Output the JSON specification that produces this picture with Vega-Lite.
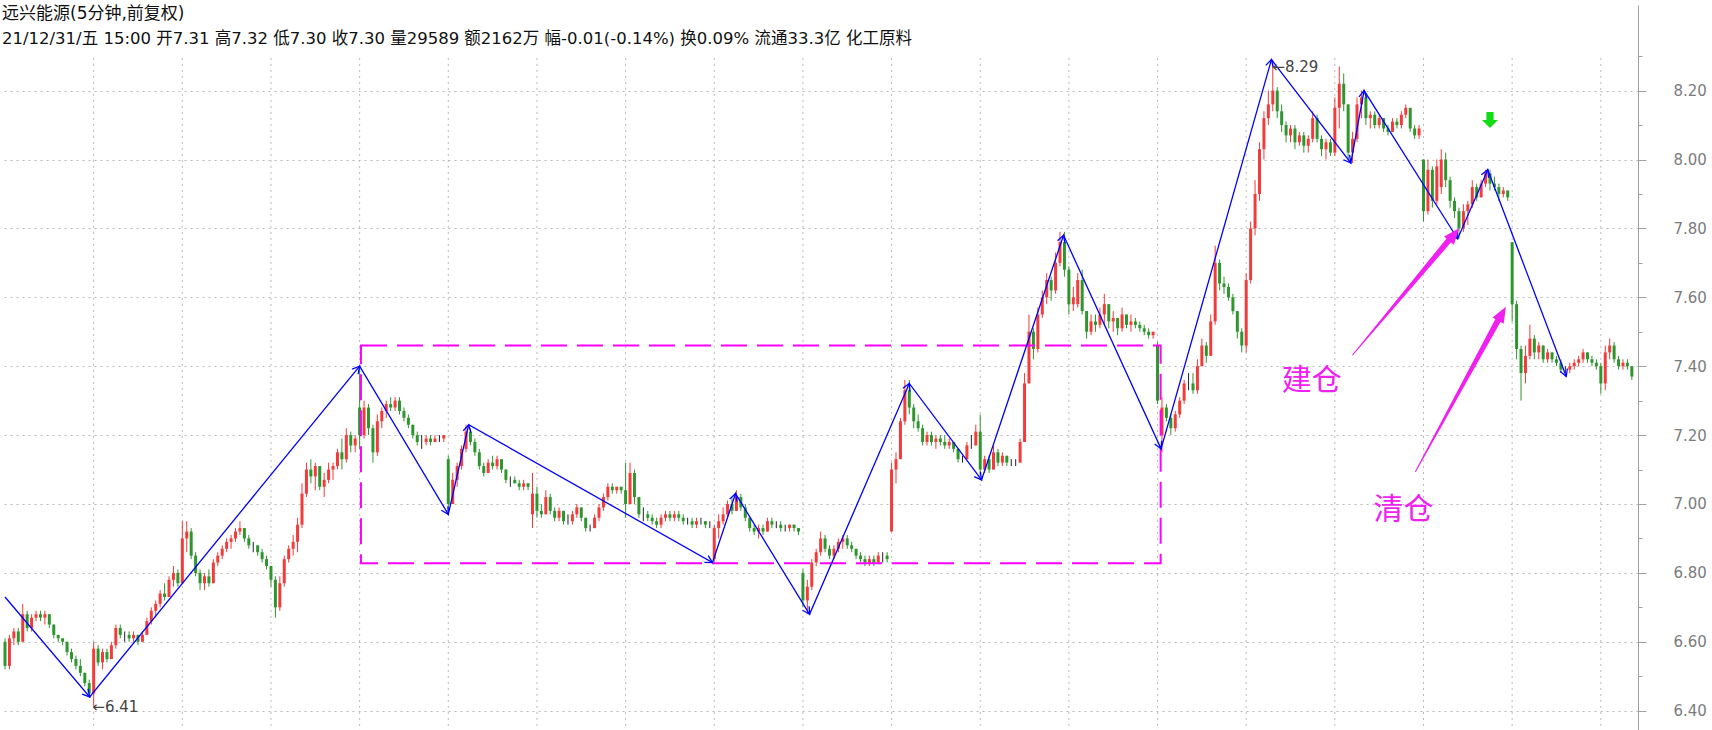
{
"$schema":"https://vega.github.io/schema/vega-lite/v6.json",
"width":1638,"height":725,
"autosize":{"type":"none"},
"padding":{"left":0,"top":5,"right":74,"bottom":0},
"background":"#ffffff",
"view":{"stroke":null},
"resolve":{"axis":{"x":"independent","y":"independent"}},
"title":{"text":"远兴能源(5分钟,前复权)","subtitle":"21/12/31/五 15:00 开7.31 高7.32 低7.30 收7.30 量29589 额2162万 幅-0.01(-0.14%) 换0.09% 流通33.3亿 化工原料","anchor":"start","frame":"group","offset":-43,"dx":2,"font":"DejaVu Sans, Noto Sans CJK SC","fontSize":17,"fontWeight":"normal","color":"#111111","subtitleFont":"DejaVu Sans, Noto Sans CJK SC","subtitleFontSize":16.5,"subtitleColor":"#111111","subtitlePadding":8},
"datasets":{
"candles":[
{"t":0,"o":6.6,"h":6.61,"l":6.52,"c":6.53},{"t":1,"o":6.53,"h":6.62,"l":6.52,"c":6.61},{"t":2,"o":6.61,"h":6.64,"l":6.59,"c":6.63},{"t":3,"o":6.63,"h":6.64,"l":6.59,"c":6.6},{"t":4,"o":6.6,"h":6.71,"l":6.6,"c":6.68},{"t":5,"o":6.68,"h":6.69,"l":6.63,"c":6.64},{"t":6,"o":6.64,"h":6.68,"l":6.63,"c":6.67},{"t":7,"o":6.67,"h":6.69,"l":6.66,"c":6.68},{"t":8,"o":6.68,"h":6.69,"l":6.66,"c":6.67},{"t":9,"o":6.67,"h":6.69,"l":6.65,"c":6.68},
{"t":10,"o":6.68,"h":6.68,"l":6.64,"c":6.65},{"t":11,"o":6.65,"h":6.65,"l":6.61,"c":6.62},{"t":12,"o":6.62,"h":6.62,"l":6.6,"c":6.61},{"t":13,"o":6.61,"h":6.61,"l":6.59,"c":6.6},{"t":14,"o":6.6,"h":6.6,"l":6.56,"c":6.57},{"t":15,"o":6.57,"h":6.58,"l":6.54,"c":6.55},{"t":16,"o":6.55,"h":6.56,"l":6.52,"c":6.53},{"t":17,"o":6.53,"h":6.55,"l":6.5,"c":6.51},{"t":18,"o":6.51,"h":6.51,"l":6.47,"c":6.48},{"t":19,"o":6.48,"h":6.49,"l":6.44,"c":6.45},
{"t":20,"o":6.45,"h":6.6,"l":6.41,"c":6.58},{"t":21,"o":6.58,"h":6.59,"l":6.53,"c":6.54},{"t":22,"o":6.54,"h":6.58,"l":6.52,"c":6.57},{"t":23,"o":6.57,"h":6.58,"l":6.54,"c":6.55},{"t":24,"o":6.55,"h":6.6,"l":6.55,"c":6.59},{"t":25,"o":6.59,"h":6.65,"l":6.58,"c":6.64},{"t":26,"o":6.64,"h":6.65,"l":6.61,"c":6.62},{"t":27,"o":6.62,"h":6.63,"l":6.6,"c":6.62},{"t":28,"o":6.62,"h":6.63,"l":6.6,"c":6.61},{"t":29,"o":6.61,"h":6.63,"l":6.6,"c":6.62},
{"t":30,"o":6.62,"h":6.62,"l":6.59,"c":6.6},{"t":31,"o":6.6,"h":6.63,"l":6.6,"c":6.62},{"t":32,"o":6.62,"h":6.67,"l":6.62,"c":6.66},{"t":33,"o":6.66,"h":6.7,"l":6.65,"c":6.69},{"t":34,"o":6.69,"h":6.72,"l":6.67,"c":6.71},{"t":35,"o":6.71,"h":6.75,"l":6.7,"c":6.74},{"t":36,"o":6.74,"h":6.77,"l":6.72,"c":6.73},{"t":37,"o":6.73,"h":6.79,"l":6.73,"c":6.78},{"t":38,"o":6.78,"h":6.82,"l":6.76,"c":6.8},{"t":39,"o":6.8,"h":6.81,"l":6.76,"c":6.77},
{"t":40,"o":6.77,"h":6.95,"l":6.77,"c":6.9},{"t":41,"o":6.9,"h":6.95,"l":6.86,"c":6.92},{"t":42,"o":6.92,"h":6.93,"l":6.84,"c":6.85},{"t":43,"o":6.85,"h":6.86,"l":6.79,"c":6.8},{"t":44,"o":6.8,"h":6.81,"l":6.75,"c":6.77},{"t":45,"o":6.77,"h":6.8,"l":6.75,"c":6.79},{"t":46,"o":6.79,"h":6.81,"l":6.76,"c":6.77},{"t":47,"o":6.77,"h":6.84,"l":6.77,"c":6.83},{"t":48,"o":6.83,"h":6.86,"l":6.82,"c":6.85},{"t":49,"o":6.85,"h":6.88,"l":6.84,"c":6.87},
{"t":50,"o":6.87,"h":6.9,"l":6.86,"c":6.89},{"t":51,"o":6.89,"h":6.91,"l":6.87,"c":6.9},{"t":52,"o":6.9,"h":6.93,"l":6.89,"c":6.92},{"t":53,"o":6.92,"h":6.95,"l":6.91,"c":6.93},{"t":54,"o":6.93,"h":6.93,"l":6.89,"c":6.9},{"t":55,"o":6.9,"h":6.91,"l":6.87,"c":6.88},{"t":56,"o":6.88,"h":6.89,"l":6.86,"c":6.88},{"t":57,"o":6.88,"h":6.88,"l":6.85,"c":6.86},{"t":58,"o":6.86,"h":6.87,"l":6.83,"c":6.84},{"t":59,"o":6.84,"h":6.85,"l":6.81,"c":6.82},
{"t":60,"o":6.82,"h":6.82,"l":6.76,"c":6.78},{"t":61,"o":6.78,"h":6.79,"l":6.67,"c":6.7},{"t":62,"o":6.7,"h":6.79,"l":6.69,"c":6.77},{"t":63,"o":6.77,"h":6.85,"l":6.76,"c":6.84},{"t":64,"o":6.84,"h":6.88,"l":6.83,"c":6.87},{"t":65,"o":6.87,"h":6.91,"l":6.85,"c":6.89},{"t":66,"o":6.89,"h":6.96,"l":6.86,"c":6.94},{"t":67,"o":6.94,"h":7.06,"l":6.93,"c":7.03},{"t":68,"o":7.03,"h":7.12,"l":7.02,"c":7.1},{"t":69,"o":7.1,"h":7.13,"l":7.06,"c":7.08},
{"t":70,"o":7.08,"h":7.12,"l":7.04,"c":7.11},{"t":71,"o":7.11,"h":7.11,"l":7.04,"c":7.05},{"t":72,"o":7.05,"h":7.09,"l":7.02,"c":7.07},{"t":73,"o":7.07,"h":7.12,"l":7.06,"c":7.1},{"t":74,"o":7.1,"h":7.12,"l":7.07,"c":7.11},{"t":75,"o":7.11,"h":7.16,"l":7.1,"c":7.15},{"t":76,"o":7.15,"h":7.19,"l":7.1,"c":7.13},{"t":77,"o":7.13,"h":7.22,"l":7.12,"c":7.2},{"t":78,"o":7.2,"h":7.21,"l":7.15,"c":7.17},{"t":79,"o":7.17,"h":7.2,"l":7.15,"c":7.19},
{"t":80,"o":7.28,"h":7.4,"l":7.16,"c":7.2},{"t":81,"o":7.2,"h":7.3,"l":7.19,"c":7.28},{"t":82,"o":7.28,"h":7.29,"l":7.2,"c":7.22},{"t":83,"o":7.22,"h":7.23,"l":7.12,"c":7.15},{"t":84,"o":7.15,"h":7.26,"l":7.14,"c":7.24},{"t":85,"o":7.24,"h":7.28,"l":7.22,"c":7.27},{"t":86,"o":7.27,"h":7.3,"l":7.25,"c":7.29},{"t":87,"o":7.29,"h":7.31,"l":7.27,"c":7.28},{"t":88,"o":7.28,"h":7.31,"l":7.27,"c":7.3},{"t":89,"o":7.3,"h":7.31,"l":7.26,"c":7.27},
{"t":90,"o":7.27,"h":7.28,"l":7.24,"c":7.25},{"t":91,"o":7.25,"h":7.26,"l":7.22,"c":7.23},{"t":92,"o":7.23,"h":7.23,"l":7.19,"c":7.2},{"t":93,"o":7.2,"h":7.21,"l":7.17,"c":7.18},{"t":94,"o":7.18,"h":7.2,"l":7.16,"c":7.18},{"t":95,"o":7.18,"h":7.2,"l":7.17,"c":7.19},{"t":96,"o":7.19,"h":7.2,"l":7.17,"c":7.18},{"t":97,"o":7.18,"h":7.2,"l":7.18,"c":7.19},{"t":98,"o":7.19,"h":7.2,"l":7.18,"c":7.19},{"t":99,"o":7.19,"h":7.2,"l":7.18,"c":7.2},
{"t":100,"o":7.13,"h":7.14,"l":6.97,"c":7.0},{"t":101,"o":7.0,"h":7.09,"l":7.0,"c":7.07},{"t":102,"o":7.07,"h":7.12,"l":7.05,"c":7.11},{"t":103,"o":7.11,"h":7.17,"l":7.1,"c":7.16},{"t":104,"o":7.16,"h":7.23,"l":7.15,"c":7.21},{"t":105,"o":7.21,"h":7.22,"l":7.17,"c":7.18},{"t":106,"o":7.18,"h":7.19,"l":7.14,"c":7.15},{"t":107,"o":7.15,"h":7.16,"l":7.1,"c":7.11},{"t":108,"o":7.11,"h":7.12,"l":7.08,"c":7.09},{"t":109,"o":7.09,"h":7.13,"l":7.09,"c":7.12},
{"t":110,"o":7.12,"h":7.14,"l":7.1,"c":7.11},{"t":111,"o":7.11,"h":7.14,"l":7.1,"c":7.13},{"t":112,"o":7.13,"h":7.13,"l":7.09,"c":7.1},{"t":113,"o":7.1,"h":7.1,"l":7.06,"c":7.07},{"t":114,"o":7.07,"h":7.08,"l":7.05,"c":7.07},{"t":115,"o":7.07,"h":7.08,"l":7.06,"c":7.06},{"t":116,"o":7.06,"h":7.07,"l":7.04,"c":7.05},{"t":117,"o":7.05,"h":7.07,"l":7.04,"c":7.06},{"t":118,"o":7.06,"h":7.06,"l":7.04,"c":7.05},{"t":119,"o":6.97,"h":7.09,"l":6.93,"c":7.03},
{"t":120,"o":7.03,"h":7.05,"l":6.96,"c":6.98},{"t":121,"o":6.98,"h":7.0,"l":6.96,"c":6.97},{"t":122,"o":6.97,"h":7.04,"l":6.97,"c":7.02},{"t":123,"o":7.02,"h":7.03,"l":6.97,"c":6.98},{"t":124,"o":6.98,"h":6.99,"l":6.95,"c":6.96},{"t":125,"o":6.96,"h":6.99,"l":6.95,"c":6.98},{"t":126,"o":6.98,"h":6.98,"l":6.94,"c":6.95},{"t":127,"o":6.95,"h":6.97,"l":6.94,"c":6.95},{"t":128,"o":6.95,"h":6.98,"l":6.94,"c":6.97},{"t":129,"o":6.97,"h":7.0,"l":6.96,"c":6.99},
{"t":130,"o":6.99,"h":6.99,"l":6.95,"c":6.96},{"t":131,"o":6.96,"h":6.96,"l":6.92,"c":6.93},{"t":132,"o":6.93,"h":6.94,"l":6.92,"c":6.93},{"t":133,"o":6.93,"h":6.97,"l":6.93,"c":6.96},{"t":134,"o":6.96,"h":7.0,"l":6.95,"c":6.99},{"t":135,"o":6.99,"h":7.03,"l":6.98,"c":7.02},{"t":136,"o":7.02,"h":7.06,"l":7.01,"c":7.05},{"t":137,"o":7.05,"h":7.06,"l":7.03,"c":7.04},{"t":138,"o":7.04,"h":7.05,"l":7.03,"c":7.05},{"t":139,"o":7.05,"h":7.05,"l":7.03,"c":7.04},
{"t":140,"o":7.04,"h":7.12,"l":6.96,"c":7.0},{"t":141,"o":7.0,"h":7.12,"l":7.0,"c":7.09},{"t":142,"o":7.09,"h":7.1,"l":7.0,"c":7.02},{"t":143,"o":7.02,"h":7.02,"l":6.96,"c":6.97},{"t":144,"o":6.97,"h":6.99,"l":6.95,"c":6.97},{"t":145,"o":6.97,"h":6.98,"l":6.95,"c":6.96},{"t":146,"o":6.96,"h":6.97,"l":6.94,"c":6.95},{"t":147,"o":6.95,"h":6.96,"l":6.93,"c":6.94},{"t":148,"o":6.94,"h":6.97,"l":6.93,"c":6.96},{"t":149,"o":6.96,"h":6.98,"l":6.95,"c":6.97},
{"t":150,"o":6.97,"h":6.98,"l":6.95,"c":6.96},{"t":151,"o":6.96,"h":6.98,"l":6.95,"c":6.97},{"t":152,"o":6.97,"h":6.98,"l":6.95,"c":6.96},{"t":153,"o":6.96,"h":6.97,"l":6.94,"c":6.95},{"t":154,"o":6.95,"h":6.96,"l":6.94,"c":6.95},{"t":155,"o":6.95,"h":6.96,"l":6.93,"c":6.94},{"t":156,"o":6.94,"h":6.96,"l":6.93,"c":6.95},{"t":157,"o":6.95,"h":6.96,"l":6.94,"c":6.95},{"t":158,"o":6.95,"h":6.95,"l":6.93,"c":6.94},{"t":159,"o":6.94,"h":6.95,"l":6.93,"c":6.94},
{"t":160,"o":6.84,"h":6.94,"l":6.83,"c":6.93},{"t":161,"o":6.93,"h":6.97,"l":6.9,"c":6.95},{"t":162,"o":6.95,"h":6.99,"l":6.94,"c":6.97},{"t":163,"o":6.97,"h":7.01,"l":6.96,"c":7.0},{"t":164,"o":7.0,"h":7.02,"l":6.97,"c":6.98},{"t":165,"o":6.98,"h":7.04,"l":6.98,"c":7.02},{"t":166,"o":7.02,"h":7.03,"l":6.98,"c":6.99},{"t":167,"o":6.99,"h":7.0,"l":6.95,"c":6.96},{"t":168,"o":6.96,"h":6.96,"l":6.92,"c":6.93},{"t":169,"o":6.93,"h":6.94,"l":6.91,"c":6.92},
{"t":170,"o":6.92,"h":6.94,"l":6.9,"c":6.93},{"t":171,"o":6.93,"h":6.94,"l":6.91,"c":6.92},{"t":172,"o":6.92,"h":6.96,"l":6.92,"c":6.95},{"t":173,"o":6.95,"h":6.96,"l":6.93,"c":6.94},{"t":174,"o":6.94,"h":6.95,"l":6.93,"c":6.94},{"t":175,"o":6.94,"h":6.95,"l":6.92,"c":6.93},{"t":176,"o":6.93,"h":6.94,"l":6.92,"c":6.93},{"t":177,"o":6.93,"h":6.94,"l":6.92,"c":6.94},{"t":178,"o":6.94,"h":6.94,"l":6.92,"c":6.93},{"t":179,"o":6.93,"h":6.93,"l":6.91,"c":6.92},
{"t":180,"o":6.8,"h":6.81,"l":6.7,"c":6.72},{"t":181,"o":6.72,"h":6.78,"l":6.68,"c":6.76},{"t":182,"o":6.76,"h":6.84,"l":6.75,"c":6.83},{"t":183,"o":6.83,"h":6.87,"l":6.82,"c":6.86},{"t":184,"o":6.86,"h":6.92,"l":6.85,"c":6.9},{"t":185,"o":6.9,"h":6.91,"l":6.86,"c":6.87},{"t":186,"o":6.87,"h":6.88,"l":6.84,"c":6.85},{"t":187,"o":6.85,"h":6.88,"l":6.84,"c":6.87},{"t":188,"o":6.87,"h":6.9,"l":6.86,"c":6.89},{"t":189,"o":6.89,"h":6.91,"l":6.87,"c":6.9},
{"t":190,"o":6.9,"h":6.91,"l":6.87,"c":6.88},{"t":191,"o":6.88,"h":6.89,"l":6.86,"c":6.87},{"t":192,"o":6.87,"h":6.87,"l":6.84,"c":6.85},{"t":193,"o":6.85,"h":6.86,"l":6.83,"c":6.84},{"t":194,"o":6.84,"h":6.85,"l":6.82,"c":6.83},{"t":195,"o":6.83,"h":6.85,"l":6.82,"c":6.84},{"t":196,"o":6.84,"h":6.85,"l":6.82,"c":6.83},{"t":197,"o":6.83,"h":6.86,"l":6.83,"c":6.85},{"t":198,"o":6.85,"h":6.86,"l":6.83,"c":6.85},{"t":199,"o":6.85,"h":6.86,"l":6.83,"c":6.84},
{"t":200,"o":6.92,"h":7.12,"l":6.92,"c":7.1},{"t":201,"o":7.1,"h":7.15,"l":7.06,"c":7.13},{"t":202,"o":7.13,"h":7.25,"l":7.13,"c":7.24},{"t":203,"o":7.24,"h":7.36,"l":7.23,"c":7.33},{"t":204,"o":7.33,"h":7.36,"l":7.26,"c":7.28},{"t":205,"o":7.28,"h":7.29,"l":7.22,"c":7.24},{"t":206,"o":7.24,"h":7.26,"l":7.21,"c":7.22},{"t":207,"o":7.22,"h":7.23,"l":7.17,"c":7.18},{"t":208,"o":7.18,"h":7.21,"l":7.17,"c":7.2},{"t":209,"o":7.2,"h":7.21,"l":7.17,"c":7.18},
{"t":210,"o":7.18,"h":7.2,"l":7.16,"c":7.19},{"t":211,"o":7.19,"h":7.2,"l":7.17,"c":7.18},{"t":212,"o":7.18,"h":7.2,"l":7.16,"c":7.17},{"t":213,"o":7.17,"h":7.19,"l":7.16,"c":7.18},{"t":214,"o":7.18,"h":7.18,"l":7.15,"c":7.16},{"t":215,"o":7.16,"h":7.16,"l":7.12,"c":7.13},{"t":216,"o":7.13,"h":7.14,"l":7.12,"c":7.13},{"t":217,"o":7.13,"h":7.18,"l":7.13,"c":7.17},{"t":218,"o":7.17,"h":7.2,"l":7.16,"c":7.17},{"t":219,"o":7.17,"h":7.23,"l":7.17,"c":7.21},
{"t":220,"o":7.21,"h":7.26,"l":7.08,"c":7.1},{"t":221,"o":7.1,"h":7.14,"l":7.09,"c":7.13},{"t":222,"o":7.13,"h":7.14,"l":7.09,"c":7.1},{"t":223,"o":7.1,"h":7.17,"l":7.1,"c":7.15},{"t":224,"o":7.15,"h":7.16,"l":7.11,"c":7.12},{"t":225,"o":7.12,"h":7.15,"l":7.11,"c":7.14},{"t":226,"o":7.14,"h":7.14,"l":7.11,"c":7.12},{"t":227,"o":7.12,"h":7.13,"l":7.11,"c":7.12},{"t":228,"o":7.12,"h":7.13,"l":7.11,"c":7.12},{"t":229,"o":7.12,"h":7.19,"l":7.12,"c":7.18},
{"t":230,"o":7.18,"h":7.38,"l":7.18,"c":7.35},{"t":231,"o":7.35,"h":7.55,"l":7.35,"c":7.5},{"t":232,"o":7.5,"h":7.51,"l":7.42,"c":7.45},{"t":233,"o":7.45,"h":7.57,"l":7.44,"c":7.55},{"t":234,"o":7.55,"h":7.62,"l":7.54,"c":7.6},{"t":235,"o":7.6,"h":7.67,"l":7.58,"c":7.65},{"t":236,"o":7.65,"h":7.66,"l":7.59,"c":7.62},{"t":237,"o":7.62,"h":7.73,"l":7.61,"c":7.7},{"t":238,"o":7.7,"h":7.79,"l":7.69,"c":7.76},{"t":239,"o":7.76,"h":7.79,"l":7.66,"c":7.68},
{"t":240,"o":7.68,"h":7.69,"l":7.55,"c":7.58},{"t":241,"o":7.58,"h":7.63,"l":7.56,"c":7.6},{"t":242,"o":7.58,"h":7.67,"l":7.57,"c":7.65},{"t":243,"o":7.65,"h":7.68,"l":7.55,"c":7.56},{"t":244,"o":7.56,"h":7.56,"l":7.48,"c":7.5},{"t":245,"o":7.5,"h":7.55,"l":7.49,"c":7.53},{"t":246,"o":7.53,"h":7.55,"l":7.5,"c":7.52},{"t":247,"o":7.52,"h":7.57,"l":7.51,"c":7.55},{"t":248,"o":7.55,"h":7.61,"l":7.52,"c":7.58},{"t":249,"o":7.58,"h":7.58,"l":7.51,"c":7.53},
{"t":250,"o":7.53,"h":7.56,"l":7.5,"c":7.54},{"t":251,"o":7.54,"h":7.54,"l":7.49,"c":7.51},{"t":252,"o":7.51,"h":7.57,"l":7.5,"c":7.55},{"t":253,"o":7.55,"h":7.55,"l":7.51,"c":7.52},{"t":254,"o":7.52,"h":7.55,"l":7.5,"c":7.53},{"t":255,"o":7.53,"h":7.54,"l":7.51,"c":7.52},{"t":256,"o":7.52,"h":7.53,"l":7.5,"c":7.51},{"t":257,"o":7.51,"h":7.52,"l":7.49,"c":7.5},{"t":258,"o":7.5,"h":7.51,"l":7.48,"c":7.49},{"t":259,"o":7.49,"h":7.5,"l":7.48,"c":7.5},
{"t":260,"o":7.46,"h":7.47,"l":7.29,"c":7.3},{"t":261,"o":7.2,"h":7.31,"l":7.15,"c":7.28},{"t":262,"o":7.28,"h":7.29,"l":7.24,"c":7.25},{"t":263,"o":7.25,"h":7.26,"l":7.2,"c":7.22},{"t":264,"o":7.22,"h":7.27,"l":7.21,"c":7.26},{"t":265,"o":7.26,"h":7.31,"l":7.25,"c":7.3},{"t":266,"o":7.3,"h":7.36,"l":7.29,"c":7.35},{"t":267,"o":7.35,"h":7.38,"l":7.33,"c":7.35},{"t":268,"o":7.35,"h":7.38,"l":7.32,"c":7.33},{"t":269,"o":7.33,"h":7.42,"l":7.32,"c":7.4},
{"t":270,"o":7.4,"h":7.48,"l":7.4,"c":7.46},{"t":271,"o":7.46,"h":7.47,"l":7.41,"c":7.43},{"t":272,"o":7.43,"h":7.55,"l":7.43,"c":7.53},{"t":273,"o":7.53,"h":7.75,"l":7.52,"c":7.7},{"t":274,"o":7.7,"h":7.71,"l":7.62,"c":7.64},{"t":275,"o":7.64,"h":7.66,"l":7.61,"c":7.63},{"t":276,"o":7.63,"h":7.64,"l":7.59,"c":7.6},{"t":277,"o":7.6,"h":7.61,"l":7.55,"c":7.56},{"t":278,"o":7.56,"h":7.56,"l":7.48,"c":7.5},{"t":279,"o":7.5,"h":7.51,"l":7.44,"c":7.46},
{"t":280,"o":7.46,"h":7.67,"l":7.44,"c":7.65},{"t":281,"o":7.65,"h":7.82,"l":7.64,"c":7.8},{"t":282,"o":7.8,"h":7.94,"l":7.78,"c":7.9},{"t":283,"o":7.9,"h":8.05,"l":7.88,"c":8.03},{"t":284,"o":8.03,"h":8.14,"l":8.0,"c":8.12},{"t":285,"o":8.12,"h":8.2,"l":8.1,"c":8.16},{"t":286,"o":8.16,"h":8.29,"l":8.14,"c":8.2},{"t":287,"o":8.2,"h":8.21,"l":8.12,"c":8.14},{"t":288,"o":8.14,"h":8.16,"l":8.08,"c":8.1},{"t":289,"o":8.1,"h":8.11,"l":8.05,"c":8.07},
{"t":290,"o":8.07,"h":8.1,"l":8.05,"c":8.09},{"t":291,"o":8.09,"h":8.1,"l":8.03,"c":8.05},{"t":292,"o":8.05,"h":8.08,"l":8.04,"c":8.07},{"t":293,"o":8.07,"h":8.08,"l":8.02,"c":8.04},{"t":294,"o":8.04,"h":8.07,"l":8.02,"c":8.06},{"t":295,"o":8.06,"h":8.14,"l":8.05,"c":8.12},{"t":296,"o":8.12,"h":8.13,"l":8.05,"c":8.06},{"t":297,"o":8.06,"h":8.07,"l":8.01,"c":8.03},{"t":298,"o":8.03,"h":8.06,"l":8.0,"c":8.05},{"t":299,"o":8.05,"h":8.06,"l":8.01,"c":8.02},
{"t":300,"o":8.02,"h":8.18,"l":8.01,"c":8.15},{"t":301,"o":8.15,"h":8.27,"l":8.09,"c":8.22},{"t":302,"o":8.22,"h":8.25,"l":8.14,"c":8.16},{"t":303,"o":8.16,"h":8.16,"l":8.0,"c":8.02},{"t":304,"o":8.02,"h":8.08,"l":7.99,"c":8.06},{"t":305,"o":8.06,"h":8.18,"l":8.05,"c":8.16},{"t":306,"o":8.16,"h":8.2,"l":8.12,"c":8.18},{"t":307,"o":8.18,"h":8.19,"l":8.1,"c":8.12},{"t":308,"o":8.12,"h":8.14,"l":8.09,"c":8.13},{"t":309,"o":8.13,"h":8.14,"l":8.09,"c":8.1},
{"t":310,"o":8.1,"h":8.13,"l":8.09,"c":8.12},{"t":311,"o":8.12,"h":8.12,"l":8.08,"c":8.09},{"t":312,"o":8.09,"h":8.1,"l":8.07,"c":8.08},{"t":313,"o":8.08,"h":8.12,"l":8.08,"c":8.11},{"t":314,"o":8.11,"h":8.12,"l":8.09,"c":8.1},{"t":315,"o":8.1,"h":8.14,"l":8.09,"c":8.13},{"t":316,"o":8.13,"h":8.16,"l":8.12,"c":8.15},{"t":317,"o":8.15,"h":8.15,"l":8.08,"c":8.09},{"t":318,"o":8.09,"h":8.1,"l":8.06,"c":8.07},{"t":319,"o":8.07,"h":8.1,"l":8.06,"c":8.09},
{"t":320,"o":8.0,"h":8.0,"l":7.82,"c":7.85},{"t":321,"o":7.85,"h":8.0,"l":7.84,"c":7.97},{"t":322,"o":7.97,"h":7.98,"l":7.86,"c":7.88},{"t":323,"o":7.88,"h":8.0,"l":7.87,"c":7.98},{"t":324,"o":7.92,"h":8.03,"l":7.9,"c":8.0},{"t":325,"o":8.0,"h":8.02,"l":7.92,"c":7.94},{"t":326,"o":7.94,"h":7.95,"l":7.86,"c":7.88},{"t":327,"o":7.88,"h":7.89,"l":7.83,"c":7.85},{"t":328,"o":7.85,"h":7.86,"l":7.77,"c":7.8},{"t":329,"o":7.8,"h":7.87,"l":7.79,"c":7.85},
{"t":330,"o":7.85,"h":7.88,"l":7.81,"c":7.87},{"t":331,"o":7.87,"h":7.94,"l":7.86,"c":7.92},{"t":332,"o":7.92,"h":7.93,"l":7.88,"c":7.89},{"t":333,"o":7.89,"h":7.94,"l":7.89,"c":7.93},{"t":334,"o":7.93,"h":7.97,"l":7.92,"c":7.96},{"t":335,"o":7.96,"h":7.97,"l":7.91,"c":7.93},{"t":336,"o":7.93,"h":7.95,"l":7.91,"c":7.92},{"t":337,"o":7.92,"h":7.93,"l":7.88,"c":7.9},{"t":338,"o":7.9,"h":7.92,"l":7.89,"c":7.91},{"t":339,"o":7.91,"h":7.91,"l":7.88,"c":7.89},
{"t":340,"o":7.76,"h":7.76,"l":7.53,"c":7.58},{"t":341,"o":7.58,"h":7.59,"l":7.42,"c":7.45},{"t":342,"o":7.45,"h":7.46,"l":7.3,"c":7.38},{"t":343,"o":7.38,"h":7.46,"l":7.35,"c":7.43},{"t":344,"o":7.43,"h":7.52,"l":7.42,"c":7.48},{"t":345,"o":7.48,"h":7.49,"l":7.42,"c":7.44},{"t":346,"o":7.44,"h":7.47,"l":7.42,"c":7.46},{"t":347,"o":7.46,"h":7.46,"l":7.41,"c":7.42},{"t":348,"o":7.42,"h":7.45,"l":7.41,"c":7.44},{"t":349,"o":7.44,"h":7.44,"l":7.41,"c":7.42},
{"t":350,"o":7.42,"h":7.43,"l":7.4,"c":7.41},{"t":351,"o":7.41,"h":7.42,"l":7.38,"c":7.39},{"t":352,"o":7.39,"h":7.4,"l":7.38,"c":7.39},{"t":353,"o":7.39,"h":7.41,"l":7.38,"c":7.4},{"t":354,"o":7.4,"h":7.42,"l":7.39,"c":7.41},{"t":355,"o":7.41,"h":7.43,"l":7.4,"c":7.42},{"t":356,"o":7.42,"h":7.45,"l":7.41,"c":7.44},{"t":357,"o":7.44,"h":7.44,"l":7.41,"c":7.42},{"t":358,"o":7.42,"h":7.43,"l":7.4,"c":7.41},{"t":359,"o":7.41,"h":7.42,"l":7.39,"c":7.4},
{"t":360,"o":7.4,"h":7.41,"l":7.32,"c":7.35},{"t":361,"o":7.35,"h":7.46,"l":7.33,"c":7.44},{"t":362,"o":7.44,"h":7.48,"l":7.42,"c":7.46},{"t":363,"o":7.46,"h":7.47,"l":7.41,"c":7.42},{"t":364,"o":7.42,"h":7.43,"l":7.39,"c":7.4},{"t":365,"o":7.4,"h":7.42,"l":7.39,"c":7.41},{"t":366,"o":7.41,"h":7.42,"l":7.39,"c":7.4},{"t":367,"o":7.4,"h":7.4,"l":7.36,"c":7.37}
],
"zig":[{"t":0,"p":6.73},{"t":19.1,"p":6.44},{"t":80.0,"p":7.40},{"t":100.0,"p":6.97},{"t":104.6,"p":7.23},{"t":159.6,"p":6.83},{"t":164.8,"p":7.03},{"t":181.5,"p":6.68},{"t":204.0,"p":7.35},{"t":220.3,"p":7.07},{"t":238.8,"p":7.78},{"t":260.8,"p":7.16},{"t":285.7,"p":8.29},{"t":303.6,"p":7.99},{"t":306.6,"p":8.20},{"t":327.7,"p":7.77},{"t":334.5,"p":7.97},{"t":352.2,"p":7.37}],
"vgrid":[{"t":20},{"t":40},{"t":60},{"t":80},{"t":100},{"t":120},{"t":140},{"t":160},{"t":180},{"t":200},{"t":220},{"t":240},{"t":260},{"t":280},{"t":300},{"t":320},{"t":340},{"t":360}],
"box":[{"t1":80.3,"t2":260.7,"p1":6.828,"p2":7.46}],
"shaft":[{"a":1,"t":304.0,"p":7.4325,"s":0},{"a":1,"t":325.9,"p":7.768,"s":1},{"a":2,"t":318.2,"p":7.094,"s":0},{"a":2,"t":336.9,"p":7.535,"s":1}],
"head1":[{"t":326.9,"p":7.7826}],
"head2":[{"t":337.7,"p":7.5524}],
"big":[{"t":294.8,"p":7.3556,"txt":"建仓"},{"t":315.5,"p":6.9826,"txt":"清仓"}],
"ann":[{"t":19.7,"p":6.41,"txt":"←6.41"},{"t":285.9,"p":8.2685,"txt":"←8.29"}],
"sig":[{"t":335.0,"p":8.1147}]
},
"layer":[
{"data":{"name":"vgrid"},"mark":{"type":"rule","color":"#b8b8b8","strokeDash":[2,4],"strokeWidth":1},
 "encoding":{"x":{"field":"t","type":"quantitative","scale":{"domain":[0,367.26],"nice":false,"zero":false},"axis":null},
  "y":{"datum":8.295,"type":"quantitative","scale":{"domain":[6.3439,8.4485],"nice":false,"zero":false},
   "axis":{"orient":"right","title":null,"values":[6.4,6.5,6.6,6.7,6.8,6.9,7.0,7.1,7.2,7.3,7.4,7.5,7.6,7.7,7.8,7.9,8.0,8.1,8.2,8.3],
    "labelExpr":"round(datum.value*10)%2==0 ? format(datum.value,'.2f') : ''",
    "grid":true,"gridColor":"#b8b8b8","gridDash":[2,4],
    "gridOpacity":{"condition":{"test":"round(datum.value*10)%2==1","value":0},"value":1},
    "domainColor":"#a0a0a0","tickColor":"#a0a0a0",
    "tickSize":{"condition":{"test":"round(datum.value*10)%2==1","value":4},"value":8},
    "labelPadding":27,"labelColor":"#7c7c7c","labelFont":"DejaVu Sans","labelFontSize":15,"labelAlign":"left","labelBaseline":"middle","labelFlush":false,"labelOverlap":false}},
  "y2":{"datum":6.344}}},
{"data":{"name":"candles"},"mark":{"type":"rule","strokeWidth":1},
 "encoding":{"x":{"field":"t","type":"quantitative","scale":{"domain":[0,367.26],"nice":false,"zero":false},"axis":null},
  "y":{"field":"l","type":"quantitative","scale":{"domain":[6.3439,8.4485],"nice":false,"zero":false},"axis":null},
  "y2":{"field":"h"},
  "color":{"condition":[{"test":"datum.c > datum.o","value":"#f23b3b"},{"test":"datum.c < datum.o","value":"#2f962f"}],"value":"#222222"}}},
{"data":{"name":"candles"},"mark":{"type":"bar","size":3},
 "encoding":{"x":{"field":"t","type":"quantitative","scale":{"domain":[0,367.26],"nice":false,"zero":false},"axis":null},
  "y":{"field":"o","type":"quantitative","scale":{"domain":[6.3439,8.4485],"nice":false,"zero":false},"axis":null},
  "y2":{"field":"c"},
  "color":{"condition":[{"test":"datum.c > datum.o","value":"#f23b3b"},{"test":"datum.c < datum.o","value":"#2f962f"}],"value":"#222222"}}},
{"data":{"name":"box"},"mark":{"type":"rect","filled":false,"color":"#ff00ff","strokeWidth":2,"strokeDash":[26,10]},
 "encoding":{"x":{"field":"t1","type":"quantitative","scale":{"domain":[0,367.26],"nice":false,"zero":false},"axis":null},"x2":{"field":"t2"},
  "y":{"field":"p1","type":"quantitative","scale":{"domain":[6.3439,8.4485],"nice":false,"zero":false},"axis":null},"y2":{"field":"p2"}}},
{"data":{"name":"zig"},"mark":{"type":"line","color":"#0000ff","strokeWidth":1.3},
 "encoding":{"x":{"field":"t","type":"quantitative","scale":{"domain":[0,367.26],"nice":false,"zero":false},"axis":null},
  "y":{"field":"p","type":"quantitative","scale":{"domain":[6.3439,8.4485],"nice":false,"zero":false},"axis":null}}},
{"data":{"name":"zig"},
 "transform":[{"window":[{"op":"lag","field":"t","as":"pt"},{"op":"lag","field":"p","as":"pp"}],"sort":[{"field":"t"}]},{"filter":"datum.pt != null"},{"calculate":"atan2((datum.t-datum.pt)*4.46,(datum.p-datum.pp)*344.5)*180/PI","as":"ang"}],
 "mark":{"type":"point","shape":"M-0.55,1L0,0L0.55,1","filled":false,"color":"#0000ff","strokeWidth":1.3,"opacity":1,"size":200},
 "encoding":{"x":{"field":"t","type":"quantitative","scale":{"domain":[0,367.26],"nice":false,"zero":false},"axis":null},
  "y":{"field":"p","type":"quantitative","scale":{"domain":[6.3439,8.4485],"nice":false,"zero":false},"axis":null},
  "angle":{"field":"ang","type":"quantitative","scale":null}}},
{"data":{"name":"shaft"},"mark":{"type":"trail","color":"#f020f0"},
 "encoding":{"x":{"field":"t","type":"quantitative","scale":{"domain":[0,367.26],"nice":false,"zero":false},"axis":null},
  "y":{"field":"p","type":"quantitative","scale":{"domain":[6.3439,8.4485],"nice":false,"zero":false},"axis":null},
  "detail":{"field":"a"},
  "size":{"field":"s","type":"quantitative","scale":{"domain":[0,1],"range":[1,6]},"legend":null}}},
{"data":{"name":"head1"},"mark":{"type":"point","shape":"M0,-1L0.8,1L-0.8,1Z","filled":true,"color":"#f020f0","opacity":1,"size":256,"angle":40},
 "encoding":{"x":{"field":"t","type":"quantitative","scale":{"domain":[0,367.26],"nice":false,"zero":false},"axis":null},
  "y":{"field":"p","type":"quantitative","scale":{"domain":[6.3439,8.4485],"nice":false,"zero":false},"axis":null}}},
{"data":{"name":"head2"},"mark":{"type":"point","shape":"M0,-1L0.8,1L-0.8,1Z","filled":true,"color":"#f020f0","opacity":1,"size":256,"angle":29},
 "encoding":{"x":{"field":"t","type":"quantitative","scale":{"domain":[0,367.26],"nice":false,"zero":false},"axis":null},
  "y":{"field":"p","type":"quantitative","scale":{"domain":[6.3439,8.4485],"nice":false,"zero":false},"axis":null}}},
{"data":{"name":"big"},"mark":{"type":"text","color":"#f020f0","font":"Noto Sans CJK SC","fontSize":30,"align":"center","baseline":"middle"},
 "encoding":{"x":{"field":"t","type":"quantitative","scale":{"domain":[0,367.26],"nice":false,"zero":false},"axis":null},
  "y":{"field":"p","type":"quantitative","scale":{"domain":[6.3439,8.4485],"nice":false,"zero":false},"axis":null},
  "text":{"field":"txt"}}},
{"data":{"name":"ann"},"mark":{"type":"text","color":"#444444","font":"DejaVu Sans","fontSize":15,"align":"left","baseline":"middle"},
 "encoding":{"x":{"field":"t","type":"quantitative","scale":{"domain":[0,367.26],"nice":false,"zero":false},"axis":null},
  "y":{"field":"p","type":"quantitative","scale":{"domain":[6.3439,8.4485],"nice":false,"zero":false},"axis":null},
  "text":{"field":"txt"}}},
{"data":{"name":"sig"},"mark":{"type":"point","shape":"M-0.45,-1L0.45,-1L0.45,0L1,0L0,1L-1,0L-0.45,0Z","filled":true,"color":"#14dc14","opacity":1,"size":256},
 "encoding":{"x":{"field":"t","type":"quantitative","scale":{"domain":[0,367.26],"nice":false,"zero":false},"axis":null},
  "y":{"field":"p","type":"quantitative","scale":{"domain":[6.3439,8.4485],"nice":false,"zero":false},"axis":null}}}
]
}
